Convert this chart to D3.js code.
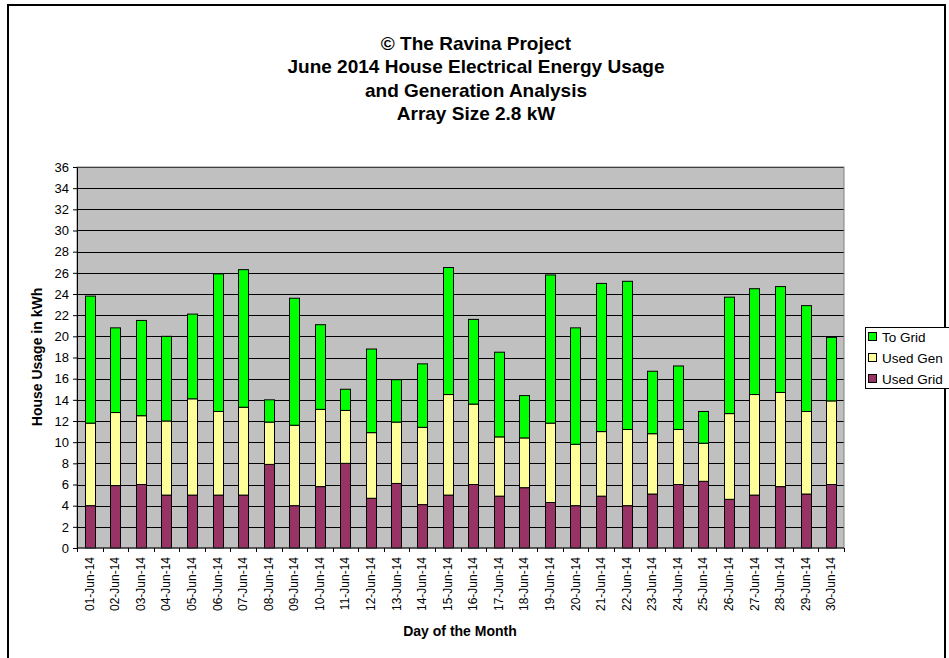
<!DOCTYPE html>
<html>
<head>
<meta charset="utf-8">
<script src="https://cdn.jsdelivr.net/npm/d3@7"></script>
<style>
  body { margin: 0; background: #fff; }
  svg { display: block; font-family: Arial, "Liberation Sans", sans-serif; }
</style>
</head>
<body>
<div id="chart-area"></div>
<script>
// chart values
const days = ["01-Jun-14","02-Jun-14","03-Jun-14","04-Jun-14","05-Jun-14","06-Jun-14","07-Jun-14","08-Jun-14","09-Jun-14","10-Jun-14",
  "11-Jun-14","12-Jun-14","13-Jun-14","14-Jun-14","15-Jun-14","16-Jun-14","17-Jun-14","18-Jun-14","19-Jun-14","20-Jun-14",
  "21-Jun-14","22-Jun-14","23-Jun-14","24-Jun-14","25-Jun-14","26-Jun-14","27-Jun-14","28-Jun-14","29-Jun-14","30-Jun-14"]
const usedGrid = [4.0,5.9,6.0,5.0,5.0,5.0,5.0,7.9,4.0,5.8, 8.0,4.7,6.1,4.1,5.0,6.0,4.9,5.7,4.3,4.0, 4.9,4.0,5.1,6.0,6.3,4.6,5.0,5.8,5.1,6.0]
const usedGen  = [7.8,6.9,6.5,7.0,9.1,7.9,8.3,4.0,7.6,7.3, 5.0,6.2,5.8,7.3,9.5,7.6,5.6,4.7,7.5,5.8, 6.1,7.2,5.7,5.2,3.6,8.1,9.5,8.9,7.8,7.9]
const toGrid   = [12.0,8.0,9.0,8.0,8.0,13.0,13.0,2.1,12.0,8.0, 2.0,7.9,4.0,6.0,12.0,8.0,8.0,4.0,14.0,11.0, 14.0,14.0,5.9,6.0,3.0,11.0,10.0,10.0,10.0,6.0]
const yTicks = d3.range(0, 37, 2)

const seriesKeys = ["usedGrid", "usedGen", "toGrid"]
const seriesNames = { usedGrid: "Used Grid", usedGen: "Used Gen", toGrid: "To Grid" }
const colors = { usedGrid: "#993366", usedGen: "#FFFF99", toGrid: "#00FF00" }

const titleLines = ["\u00A9 The Ravina Project", "June 2014 House Electrical Energy Usage", "and Generation Analysis", "Array Size 2.8 kW"]

const MARGIN = { LEFT: 77, TOP: 167 }
const WIDTH = 844 - 77
const HEIGHT = 548 - 167

const svg = d3.select("#chart-area")
  .append("svg")
  .attr("width", 949)
  .attr("height", 658)

// outer chart border
svg.append("rect")
  .attr("x", 8).attr("y", 5)
  .attr("width", 937).attr("height", 670)
  .attr("fill", "#fff")
  .attr("stroke", "#000")
  .attr("stroke-width", 2)

// title
svg.append("g")
  .selectAll("text")
  .data(titleLines)
  .enter().append("text")
    .attr("x", 476)
    .attr("y", (d, i) => 50 + i * 23.3)
    .attr("text-anchor", "middle")
    .attr("font-size", "19px")
    .attr("font-weight", "bold")
    .text(d => d)

const g = svg.append("g")
  .attr("transform", `translate(${MARGIN.LEFT}, ${MARGIN.TOP})`)

const x = d3.scaleBand()
  .domain(days)
  .range([0, WIDTH])
  .paddingInner(0.6)
  .paddingOuter(0.3)

const y = d3.scaleLinear()
  .domain([0, 36])
  .range([HEIGHT, 0])

// plot background
g.append("rect")
  .attr("width", WIDTH).attr("height", HEIGHT)
  .attr("fill", "#C0C0C0")

// gridlines
g.append("g")
  .selectAll("line")
  .data(yTicks.filter(d => d > 0))
  .enter().append("line")
    .attr("x1", 0).attr("x2", WIDTH)
    .attr("y1", d => Math.round(y(d)) + 0.5)
    .attr("y2", d => Math.round(y(d)) + 0.5)
    .attr("stroke", "#000")

// stacked bars
const rows = days.map((d, i) => ({ day: d, usedGrid: usedGrid[i], usedGen: usedGen[i], toGrid: toGrid[i] }))
const stacked = d3.stack().keys(seriesKeys)(rows)

g.append("g")
  .selectAll("g")
  .data(stacked)
  .enter().append("g")
    .attr("fill", d => colors[d.key])
  .selectAll("rect")
  .data(d => d)
  .enter().append("rect")
    .attr("x", d => Math.round(x(d.data.day)) + 0.5)
    .attr("y", d => y(d[1]))
    .attr("width", Math.round(x.bandwidth()))
    .attr("height", d => y(d[0]) - y(d[1]))
    .attr("stroke", "#000")
    .attr("stroke-width", 1)

// plot border
g.append("rect")
  .attr("width", WIDTH).attr("height", HEIGHT)
  .attr("fill", "none")
  .attr("stroke", "#808080")

// y axis
const yAxisGroup = g.append("g")
  .attr("class", "y axis")
  .call(d3.axisLeft(y).tickValues(yTicks).tickSize(4).tickPadding(4))
yAxisGroup.select(".domain").attr("stroke", "#000")
yAxisGroup.selectAll("text").attr("font-size", "13px").attr("fill", "#000").attr("font-family", "Arial, 'Liberation Sans', sans-serif")

// x axis: ticks between categories
const xAxisGroup = g.append("g")
  .attr("class", "x axis")
  .attr("transform", `translate(0,${HEIGHT})`)
xAxisGroup.append("line")
  .attr("x1", 0).attr("x2", WIDTH)
  .attr("stroke", "#000")
const step = WIDTH / days.length
xAxisGroup.selectAll("line.tick")
  .data(d3.range(days.length + 1))
  .enter().append("line")
    .attr("class", "tick")
    .attr("x1", d => Math.round(d * step) + 0.5)
    .attr("x2", d => Math.round(d * step) + 0.5)
    .attr("y1", 0).attr("y2", 4)
    .attr("stroke", "#000")
xAxisGroup.selectAll("text")
  .data(days)
  .enter().append("text")
    .attr("transform", d => `translate(${x(d) + x.bandwidth() / 2 + 4},9) rotate(-90)`)
    .attr("text-anchor", "end")
    .attr("font-size", "12px")
    .text(d => d)

// axis labels
svg.append("text")
  .attr("x", 460)
  .attr("y", 636)
  .attr("text-anchor", "middle")
  .attr("font-size", "14px")
  .attr("font-weight", "bold")
  .text("Day of the Month")

svg.append("text")
  .attr("transform", "translate(42,357) rotate(-90)")
  .attr("text-anchor", "middle")
  .attr("font-size", "14px")
  .attr("font-weight", "bold")
  .text("House Usage in kWh")

// legend
const legend = svg.append("g")
  .attr("transform", "translate(865,327)")
legend.append("rect")
  .attr("x", 0.5).attr("y", 0.5)
  .attr("width", 86).attr("height", 61)
  .attr("fill", "#fff")
  .attr("stroke", "#000")
const legendKeys = ["toGrid", "usedGen", "usedGrid"]
const items = legend.selectAll("g.item")
  .data(legendKeys)
  .enter().append("g")
    .attr("class", "item")
    .attr("transform", (d, i) => `translate(0,${10 + i * 21})`)
items.append("rect")
  .attr("x", 3.5).attr("y", -4.5)
  .attr("width", 8).attr("height", 8)
  .attr("fill", d => colors[d])
  .attr("stroke", "#000")
items.append("text")
  .attr("x", 17)
  .attr("y", 5)
  .attr("font-size", "13.5px")
  .text(d => seriesNames[d])
</script>
</body>
</html>
